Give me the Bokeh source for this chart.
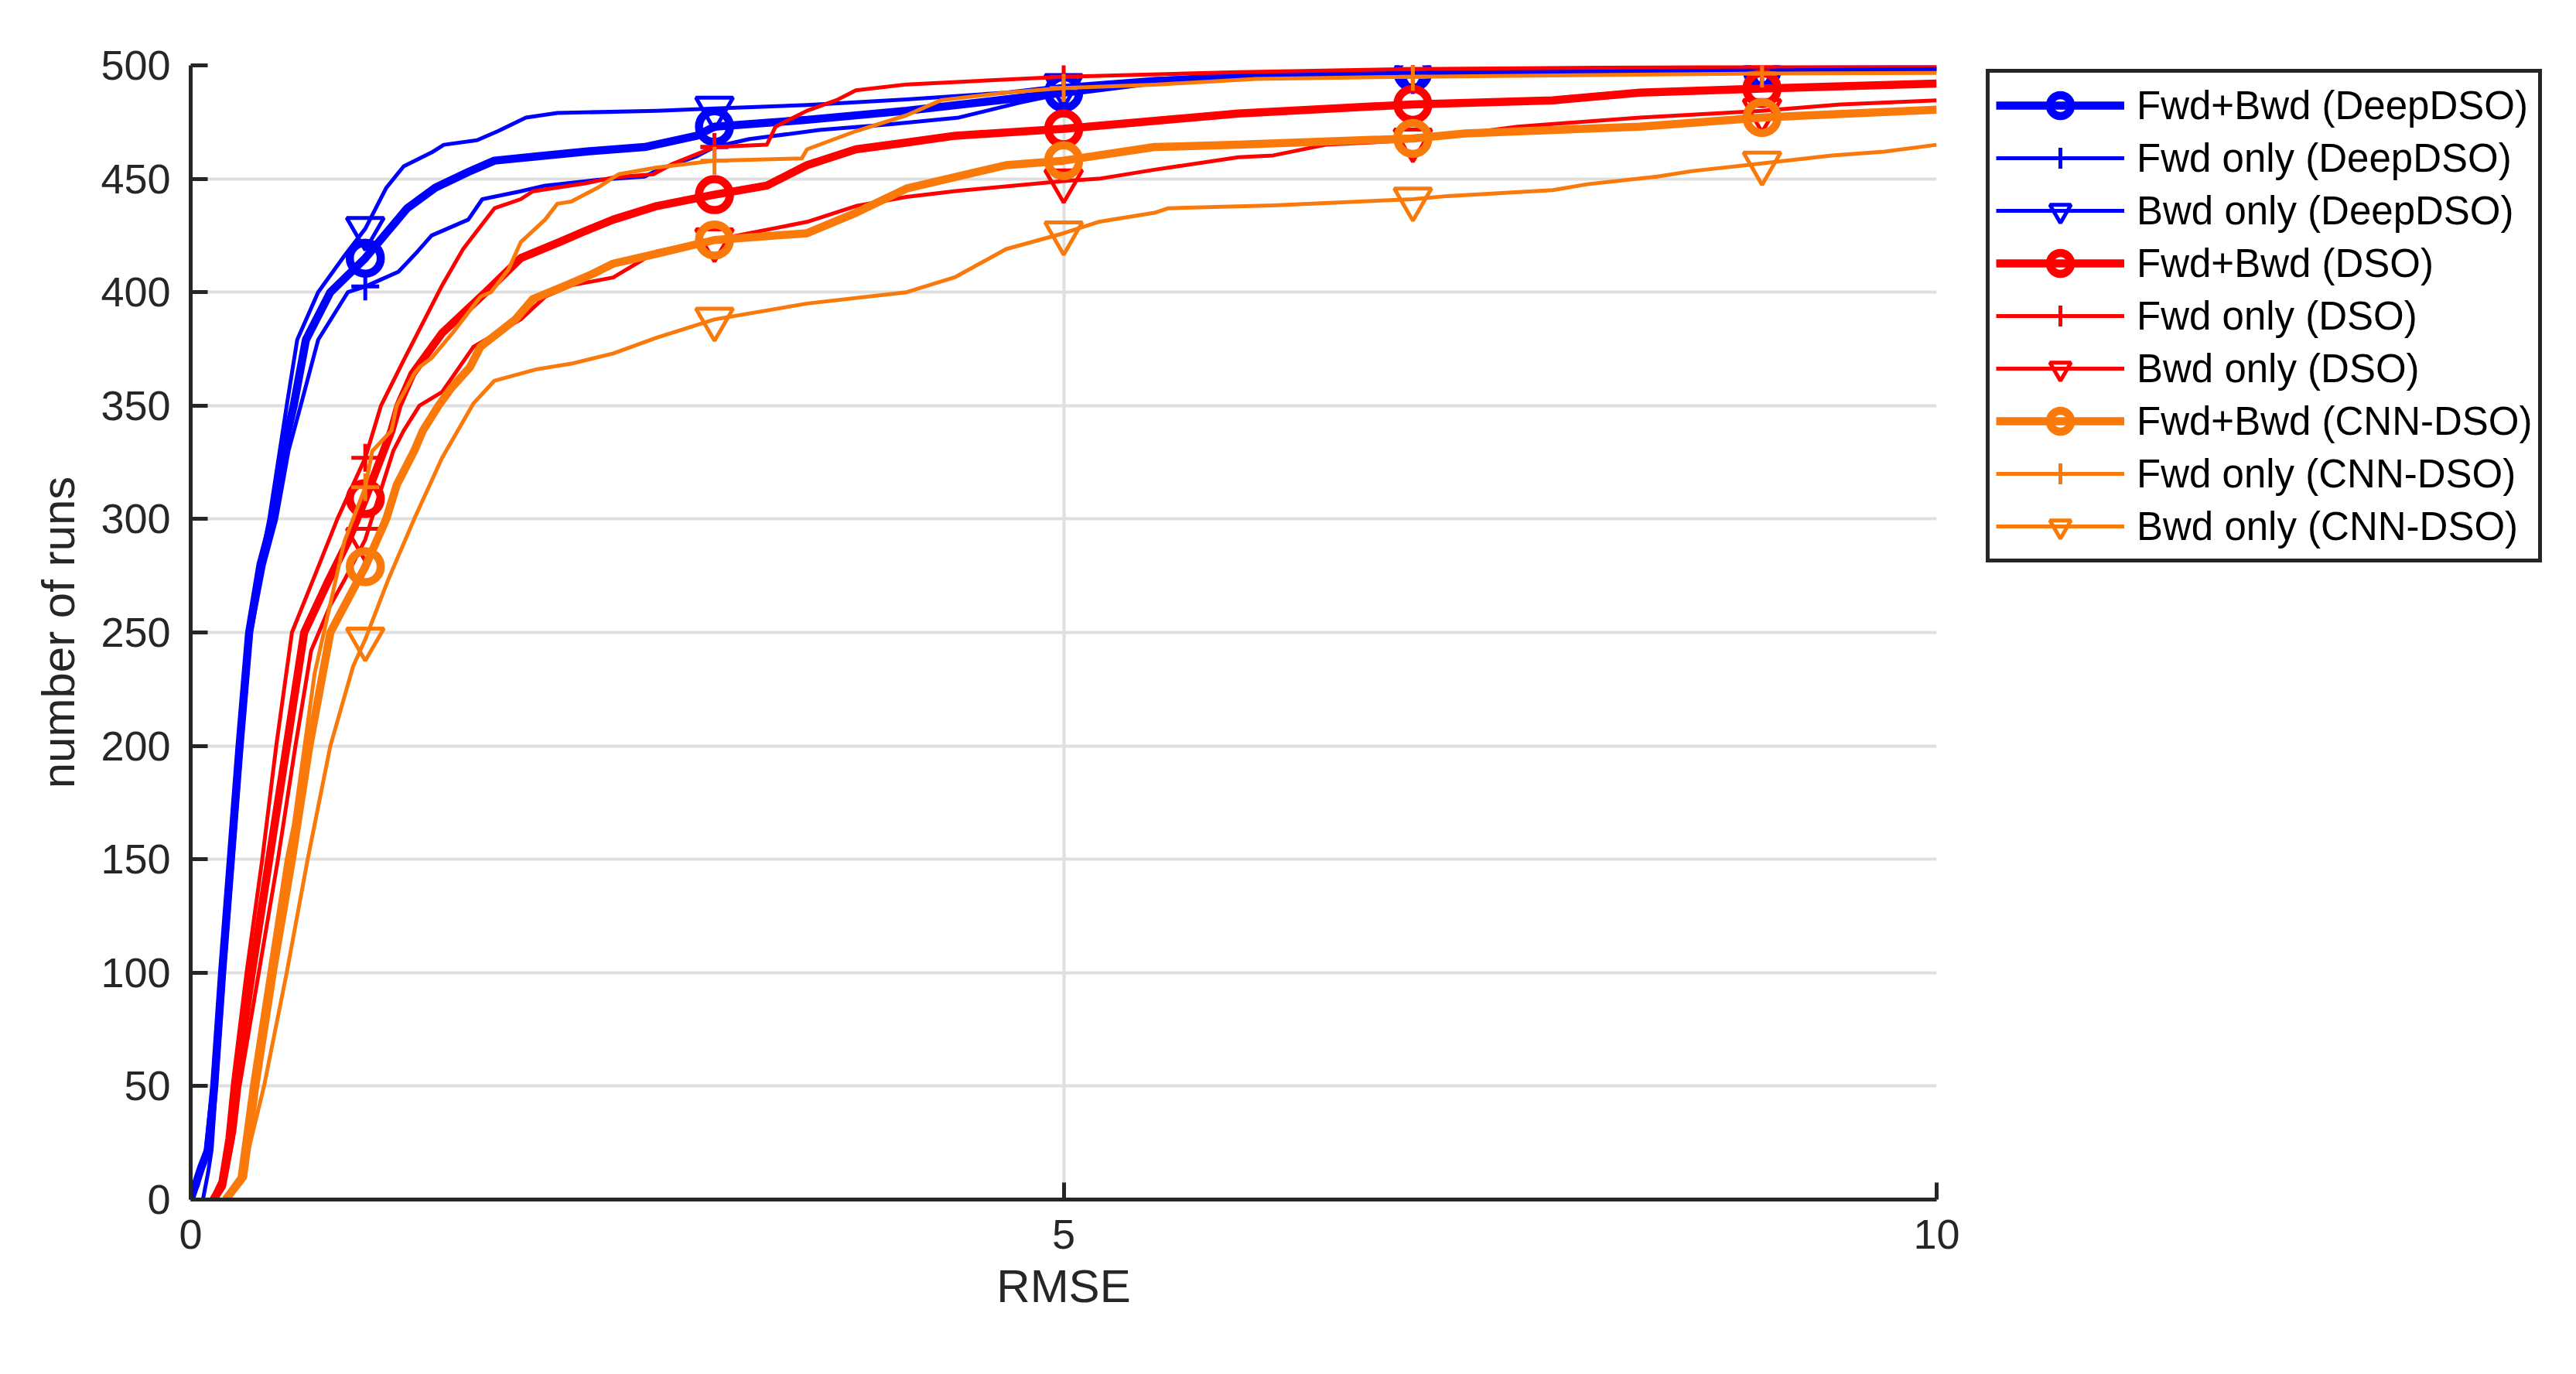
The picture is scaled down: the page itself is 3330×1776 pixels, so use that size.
import numpy as np
from bokeh.plotting import figure
from bokeh.models import Range1d, FixedTicker, Legend, LegendItem
from bokeh.embed import file_html
from bokeh.resources import INLINE

# curves: RMSE (x) vs number of runs (y)
deep_both_x = [0, 0.06, 0.1, 0.135, 0.18, 0.23, 0.28, 0.335, 0.4, 0.47, 0.53, 0.59, 0.66, 0.8, 1.0, 1.24,
               1.4, 1.59, 1.74, 2.0, 2.26, 2.6, 2.9, 3.0, 3.53, 4.1, 4.67, 5.0, 5.52, 6.0, 7.0, 9.0, 10.0]
deep_both_y = [0, 14, 22, 50, 100, 150, 200, 250, 280, 300, 330, 350, 379, 400, 415, 437,
               446, 453, 458, 460, 462, 464, 469, 473, 476, 480, 485, 488, 493, 495, 497, 498, 498.5]

deep_fwd_x = [0.07, 0.1, 0.12, 0.145, 0.19, 0.24, 0.29, 0.345, 0.42, 0.49, 0.56, 0.63, 0.73, 0.9, 1.0, 1.19,
              1.3, 1.38, 1.59, 1.67, 1.89, 2.03, 2.33, 2.6, 2.67, 2.9, 3.0, 3.2, 3.6, 4.0, 4.4, 4.75, 5.0,
              5.52, 6.0, 7.0, 9.0, 10.0]
deep_fwd_y = [0, 12, 22, 50, 100, 150, 200, 250, 280, 300, 330, 350, 379, 400, 402.5, 409,
              418, 425, 432, 441, 444.5, 447, 449.5, 451, 453.7, 460, 464, 467.5, 471.5, 474, 477, 483.6, 487.6,
              493, 495, 497, 498, 498.5]

deep_bwd_x = [0, 0.04, 0.08, 0.125, 0.175, 0.225, 0.275, 0.325, 0.38, 0.45, 0.51, 0.55, 0.61, 0.73, 0.88, 1.0,
              1.12, 1.22, 1.38, 1.45, 1.64, 1.76, 1.92, 2.1, 2.67, 3.0, 3.53, 4.1, 4.67, 5.0, 5.52, 6.0,
              7.0, 9.0, 10.0]
deep_bwd_y = [0, 6, 18, 50, 100, 150, 200, 250, 273, 300, 330, 350, 379, 400, 416, 428,
              446, 455.5, 461.6, 465, 467, 471, 477, 479, 480, 481, 482.5, 485, 488, 491, 494, 495.5,
              497.3, 498.4, 498.6]

dso_both_x = [0.13, 0.18, 0.23, 0.255, 0.35, 0.45, 0.55, 0.65, 0.79, 0.9, 1.0, 1.15, 1.19, 1.27, 1.44, 1.69,
              1.89, 2.11, 2.26, 2.42, 2.67, 3.0, 3.3, 3.53, 3.81, 4.1, 4.38, 5.0, 5.52, 6.0, 7.0, 7.8, 8.3,
              9.0, 10.0]
dso_both_y = [0, 6, 27, 50, 100, 150, 200, 250, 273, 290, 309, 339, 350, 364, 382, 400,
              415, 422, 427, 432, 438, 443, 447, 456, 463, 466, 469, 472, 475.5, 478.8, 482.8, 484.6, 488,
              489.8, 492]

dso_fwd_x = [0.12, 0.17, 0.21, 0.24, 0.32, 0.41, 0.49, 0.58, 0.7, 0.84, 1.0, 1.09, 1.22, 1.34, 1.44, 1.56,
             1.68, 1.74, 1.89, 1.96, 2.26, 2.42, 2.65, 2.76, 3.0, 3.3, 3.35, 3.53, 3.7, 3.81, 4.1, 5.0, 6.0,
             7.0, 9.0, 10.0]
dso_fwd_y = [0, 8, 27, 50, 100, 150, 200, 250, 273, 300, 327, 350, 370, 388, 403, 419,
             431, 437, 441, 444.5, 448, 450.6, 452, 456.6, 464, 465, 473, 480, 484.7, 489, 491.6, 495, 497,
             498.4, 499.5, 500]

dso_bwd_x = [0.14, 0.2, 0.25, 0.28, 0.39, 0.5, 0.6, 0.69, 0.8, 0.88, 1.0, 1.16, 1.22, 1.31, 1.44, 1.62,
             1.89, 2.03, 2.18, 2.42, 2.67, 3.0, 3.53, 3.81, 4.1, 4.38, 5.0, 5.2, 5.52, 6.0, 6.2, 6.5, 7.0,
             7.6, 8.3, 9.0, 9.45, 10.0]
dso_bwd_y = [0, 10, 30, 50, 100, 150, 200, 242, 262, 273, 291, 330, 339, 350, 356, 376,
             388, 398, 403, 406.5, 418, 423, 431, 438, 442, 444.6, 449, 450, 454, 459.5, 460.3, 465, 467,
             473, 477, 480, 482.8, 484.6]

cnn_both_x = [0.2, 0.3, 0.37, 0.47, 0.58, 0.68, 0.8, 1.0, 1.12, 1.18, 1.28, 1.33, 1.42, 1.49, 1.6, 1.66,
              1.86, 1.96, 2.15, 2.3, 2.42, 2.67, 3.0, 3.53, 3.81, 4.1, 4.67, 5.0, 5.52, 6.0, 7.0, 7.3, 8.3,
              9.0, 10.0]
cnn_both_y = [0, 10, 50, 100, 150, 200, 250, 279, 300, 315, 330, 339, 350, 357.5, 367, 376,
              388, 397, 403, 408, 412.6, 417, 423, 426, 435, 445.7, 456, 458, 464, 465, 467.8, 470, 473,
              477, 480.5]

cnn_fwd_x = [0.19, 0.28, 0.35, 0.45, 0.55, 0.59, 0.71, 0.88, 1.0, 1.04, 1.15, 1.18, 1.28, 1.31, 1.38, 1.5,
             1.55, 1.66, 1.72, 1.82, 1.89, 2.03, 2.1, 2.18, 2.33, 2.45, 2.67, 3.0, 3.5, 3.53, 3.81, 4.1,
             4.3, 4.67, 5.0, 5.52, 6.1, 7.0, 9.0, 10.0]
cnn_fwd_y = [0, 10, 50, 100, 150, 165, 232, 290, 314, 330, 339, 350, 364, 367, 371, 382,
             387, 398, 400, 410, 422, 432, 439, 440, 446, 452, 455, 458, 459, 463, 471, 478,
             484.7, 488, 490, 491.5, 494, 495, 496.4, 496.7]

cnn_bwd_x = [0.21, 0.3, 0.42, 0.55, 0.67, 0.8, 0.93, 1.0, 1.13, 1.28, 1.44, 1.62, 1.74, 1.98, 2.18, 2.42,
             2.67, 3.0, 3.53, 4.1, 4.38, 4.67, 5.0, 5.2, 5.52, 5.6, 6.2, 7.0, 7.2, 7.8, 8.0, 8.4, 8.6,
             9.0, 9.4, 9.7, 10.0]
cnn_bwd_y = [0, 12, 50, 100, 150, 200, 235, 247, 273, 300, 327, 351, 361, 366, 368.5, 373,
             380, 388, 395, 400, 406.7, 419, 426, 431, 435, 437, 438.3, 441, 442.4, 445, 447.6, 451, 453.4,
             456.8, 460.3, 462, 465]

marker_x = [1, 3, 5, 7, 9]
y_ticks = [0, 50, 100, 150, 200, 250, 300, 350, 400, 450, 500]
x_ticks = [0, 5, 10]

BLUE = "#0000ff"
RED = "#ff0000"
ORANGE = "#f9790b"
INK = "#262626"
FONT = "Liberation Sans"

series = [
    ("Fwd+Bwd (DeepDSO)", deep_both_x, deep_both_y, BLUE, "both"),
    ("Fwd only (DeepDSO)", deep_fwd_x, deep_fwd_y, BLUE, "fwd"),
    ("Bwd only (DeepDSO)", deep_bwd_x, deep_bwd_y, BLUE, "bwd"),
    ("Fwd+Bwd (DSO)", dso_both_x, dso_both_y, RED, "both"),
    ("Fwd only (DSO)", dso_fwd_x, dso_fwd_y, RED, "fwd"),
    ("Bwd only (DSO)", dso_bwd_x, dso_bwd_y, RED, "bwd"),
    ("Fwd+Bwd (CNN-DSO)", cnn_both_x, cnn_both_y, ORANGE, "both"),
    ("Fwd only (CNN-DSO)", cnn_fwd_x, cnn_fwd_y, ORANGE, "fwd"),
    ("Bwd only (CNN-DSO)", cnn_bwd_x, cnn_bwd_y, ORANGE, "bwd"),
]

# kind -> (line width, marker, marker size)
styles = {
    "both": (10.5, "circle", 40),
    "fwd": (5, "cross", 36),
    "bwd": (5, "inverted_triangle", 48),
}

p = figure(frame_width=2257, frame_height=1466,
           x_range=Range1d(0, 10), y_range=Range1d(0, 500),
           x_axis_label="RMSE", y_axis_label="number of runs",
           output_backend="svg", toolbar_location=None,
           min_border_left=246, min_border_right=0,
           min_border_top=84, min_border_bottom=210)
p.outline_line_color = None
p.background_fill_color = "white"

for ax in (p.xaxis[0], p.yaxis[0]):
    ax.axis_line_color = INK
    ax.axis_line_width = 5
    ax.major_tick_line_color = INK
    ax.major_tick_line_width = 5
    ax.major_tick_in = 22
    ax.major_tick_out = 0
    ax.minor_tick_line_color = None
    ax.major_label_text_font = FONT
    ax.major_label_text_font_size = "54px"
    ax.major_label_text_color = INK
    ax.axis_label_text_font = FONT
    ax.axis_label_text_font_size = "60px"
    ax.axis_label_text_font_style = "normal"
    ax.axis_label_text_color = INK

p.xaxis.ticker = FixedTicker(ticks=x_ticks)
p.yaxis.ticker = FixedTicker(ticks=y_ticks)
p.xaxis.major_label_standoff = 26
p.yaxis.major_label_standoff = 26
p.xaxis.axis_label_standoff = 12
p.yaxis.axis_label_standoff = 18

p.grid.grid_line_color = "#dfdfdf"
p.grid.grid_line_width = 4

items = []
for label, xs, ys, color, kind in series:
    lw, mk, ms = styles[kind]
    ln = p.line(xs, ys, line_color=color, line_width=lw, line_join="round")
    my = np.interp(marker_x, xs, ys)
    sc = p.scatter(marker_x, my, marker=mk, size=ms, fill_color=None,
                   line_color=color, line_width=lw)
    items.append(LegendItem(label=label, renderers=[ln, sc]))

legend = Legend(items=items, location=(64, 823), margin=0,
                glyph_width=166, glyph_height=68, spacing=0, padding=8,
                label_standoff=16, label_text_font=FONT, label_text_font_size="51px",
                label_text_color="black",
                border_line_color=INK, border_line_width=5, border_line_alpha=1.0,
                background_fill_color="white", background_fill_alpha=1.0)
p.add_layout(legend, "right")

open("out.html", "w").write(file_html(p, INLINE))
